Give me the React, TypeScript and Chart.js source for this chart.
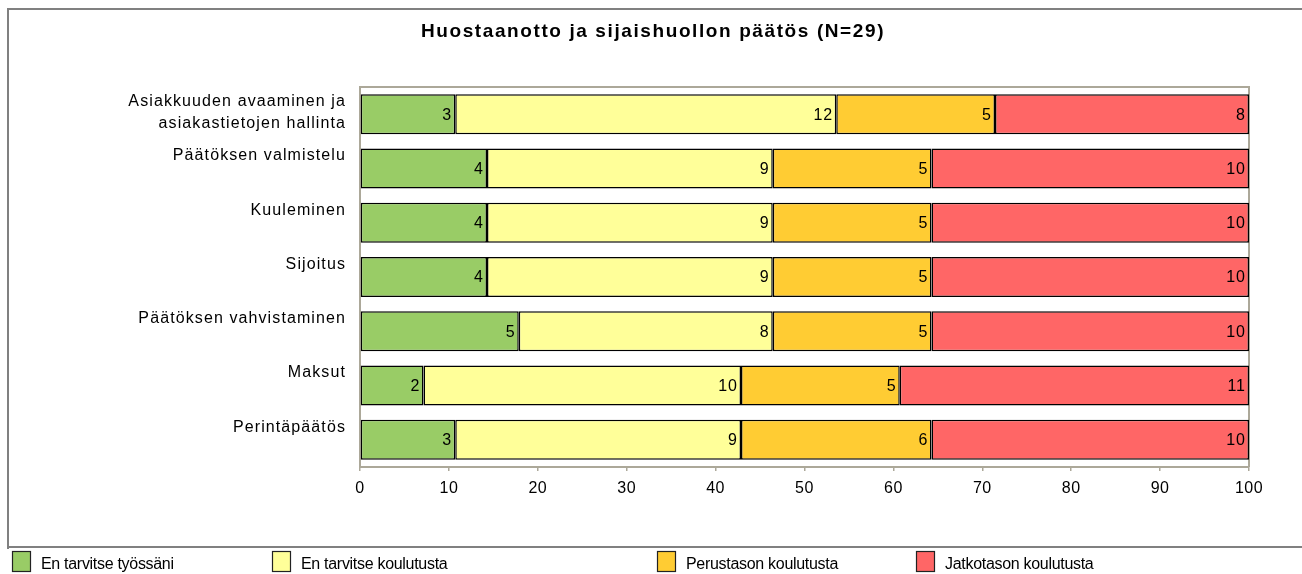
import React, { useEffect, useRef } from "react";
import { Chart, registerables } from "chart.js";

Chart.register(...registerables);

const TITLE = "Huostaanotto ja sijaishuollon päätös (N=29)";

const categories: string[][] = [
  ["Asiakkuuden avaaminen ja", "asiakastietojen hallinta"],
  ["Päätöksen valmistelu", ""],
  ["Kuuleminen", ""],
  ["Sijoitus", ""],
  ["Päätöksen vahvistaminen", ""],
  ["Maksut", ""],
  ["Perintäpäätös", ""],
];

const seriesNames = [
  "En tarvitse työssäni",
  "En tarvitse koulutusta",
  "Perustason koulutusta",
  "Jatkotason koulutusta",
];

const enTarvitseTyossani = [3, 4, 4, 4, 5, 2, 3];
const enTarvitseKoulutusta = [12, 9, 9, 9, 8, 10, 9];
const perustasonKoulutusta = [5, 5, 5, 5, 5, 5, 6];
const jatkotasonKoulutusta = [8, 10, 10, 10, 10, 11, 10];

const xMin = 0;
const xMax = 100;
const xStep = 10;

const seriesColors = ["#99CC66", "#FFFF99", "#FFCC33", "#FF6666"];
const legendBoxX = [12, 272, 657, 916];

const FONT = "'Liberation Sans', Arial, sans-serif";
const PLOT_BORDER = "#ACA899";

function wrapLabels(scale: any, spacing: string) {
  if (scale._lsWrapped) return;
  const orig = scale.drawLabels.bind(scale);
  scale.drawLabels = (area: any) => {
    const ctx = scale.ctx;
    const prev = ctx.letterSpacing;
    ctx.letterSpacing = spacing;
    orig(area);
    ctx.letterSpacing = prev || "0px";
  };
  scale._lsWrapped = true;
}

export default function App() {
  const ref = useRef<HTMLCanvasElement | null>(null);

  useEffect(() => {
    const canvas = ref.current;
    if (!canvas) return;
    const counts = [
      enTarvitseTyossani,
      enTarvitseKoulutusta,
      perustasonKoulutusta,
      jatkotasonKoulutusta,
    ];
    const totals = categories.map((_, i) =>
      counts.reduce((s, arr) => s + arr[i], 0)
    );

    const datasets = counts.map((arr, k) => ({
      label: seriesNames[k],
      data: arr.map((v, i) => (v / totals[i]) * 100),
      backgroundColor: seriesColors[k],
      borderColor: "#000000",
      borderWidth: 1.5,
      borderSkipped: false as const,
      barPercentage: 0.737,
      categoryPercentage: 1,
    }));

    const decor = {
      id: "decor",
      afterLayout(chart: any) {
        wrapLabels(chart.scales.y, "1.1px");
        wrapLabels(chart.scales.x, "0.5px");
      },
      beforeDraw(chart: any) {
        const ctx = chart.ctx;
        ctx.save();
        ctx.fillStyle = "#ffffff";
        ctx.fillRect(0, 0, chart.width, chart.height);
        ctx.restore();
      },
      beforeDatasetsDraw(chart: any) {
        const ctx = chart.ctx;
        const a = chart.chartArea;
        ctx.save();
        ctx.strokeStyle = PLOT_BORDER;
        ctx.lineWidth = 2;
        ctx.beginPath();
        ctx.moveTo(a.left - 1, a.top);
        ctx.lineTo(a.right, a.top);
        ctx.lineTo(a.right, a.bottom);
        ctx.stroke();
        ctx.restore();
      },
      afterDatasetsDraw(chart: any) {
        const ctx = chart.ctx;
        ctx.save();
        ctx.letterSpacing = "1px";
        ctx.font = `16px ${FONT}`;
        ctx.fillStyle = "#000000";
        ctx.textAlign = "right";
        ctx.textBaseline = "middle";
        chart.data.datasets.forEach((_: any, k: number) => {
          const meta = chart.getDatasetMeta(k);
          meta.data.forEach((el: any, i: number) => {
            ctx.fillText(String(counts[k][i]), el.x - 3, el.y + 1);
          });
        });
        ctx.letterSpacing = "0px";
        ctx.restore();
      },
      afterDraw(chart: any) {
        const ctx = chart.ctx;
        ctx.save();
        // title
        ctx.letterSpacing = "1.6px";
        ctx.font = `bold 19px ${FONT}`;
        ctx.fillStyle = "#000000";
        ctx.textAlign = "center";
        ctx.textBaseline = "alphabetic";
        ctx.fillText(TITLE, 653, 37);
        ctx.letterSpacing = "0px";
        // outer frame
        ctx.fillStyle = "#808080";
        ctx.fillRect(7, 8, chart.width - 7, 2);
        ctx.fillRect(7, 8, 2, 541);
        ctx.fillRect(7, 546, chart.width - 7, 2);
        // legend
        ctx.letterSpacing = "-0.3px";
        ctx.font = `16px ${FONT}`;
        ctx.textAlign = "left";
        seriesNames.forEach((name, k) => {
          const x = legendBoxX[k];
          ctx.fillStyle = seriesColors[k];
          ctx.fillRect(x, 551, 19, 21);
          ctx.strokeStyle = "#222222";
          ctx.lineWidth = 1.2;
          ctx.strokeRect(x + 0.5, 551.5, 18, 20);
          ctx.fillStyle = "#000000";
          ctx.fillText(name, x + 29, 569);
        });
        ctx.letterSpacing = "0px";
        ctx.restore();
      },
    };

    const chart = new Chart(canvas, {
      type: "bar",
      data: { labels: categories as any, datasets: datasets as any },
      options: {
        indexAxis: "y",
        responsive: false,
        animation: false,
        devicePixelRatio: 1,
        layout: { padding: { left: 0, right: 53, top: 87, bottom: 67 } },
        plugins: {
          legend: { display: false },
          tooltip: { enabled: false },
          title: { display: false },
        },
        scales: {
          x: {
            stacked: true,
            min: xMin,
            max: xMax,
            ticks: {
              stepSize: xStep,
              color: "#000000",
              font: { family: FONT, size: 16 },
              padding: 8,
              maxRotation: 0,
            },
            grid: {
              display: true,
              drawOnChartArea: false,
              drawTicks: true,
              tickLength: 4,
              color: PLOT_BORDER,
              lineWidth: 1.5,
            },
            border: { display: true, color: PLOT_BORDER, width: 2 },
            afterFit: (s: any) => {
              s.height = 40;
            },
          },
          y: {
            stacked: true,
            ticks: {
              color: "#000000",
              font: { family: FONT, size: 16, lineHeight: "22px" },
              padding: 14,
              labelOffset: -1.5,
              autoSkip: false,
            },
            grid: { display: false, drawTicks: false, tickLength: 0 },
            border: { display: true, color: PLOT_BORDER, width: 2 },
            afterFit: (s: any) => {
              s.width = 360;
            },
          },
        },
      } as any,
      plugins: [decor],
    });

    return () => chart.destroy();
  }, []);

  return (
    <div style={{ position: "absolute", left: 0, top: 0, width: 1302, height: 574 }}>
      <canvas ref={ref} width={1302} height={574} style={{ display: "block", width: 1302, height: 574 }} />
    </div>
  );
}
